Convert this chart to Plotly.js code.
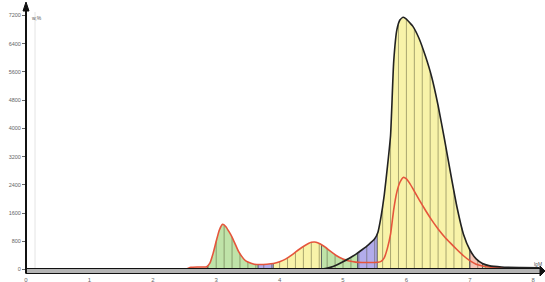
<!DOCTYPE html>
<html><head><meta charset="utf-8">
<script src="https://cdn.plot.ly/plotly-3.0.1.min.js"></script>
<style>html,body{margin:0;padding:0;background:#fff}#chart{width:545px;height:282px}</style>
</head><body><div id="chart"></div>
<script>
// ---- data ----
const xs     = [2.50,2.55,2.60,2.70,2.80,2.85,2.90,2.95,3.00,3.05,3.10,3.15,3.20,3.25,3.30,3.35,3.40,3.45,3.50,3.60,3.70,3.80,3.90,4.00,4.10,4.20,4.30,4.40,4.50,4.55,4.60,4.70,4.80,4.90,5.00,5.10,5.20,5.30,5.40,5.50,5.55,5.60,5.65,5.70,5.75,5.80,5.85,5.90,5.95,6.00,6.05,6.10,6.20,6.30,6.40,6.50,6.60,6.70,6.80,6.90,7.00,7.10,7.20,7.30,7.50,7.80,8.10];
const blackY = [0,0,0,0,0,0,0,0,0,0,0,0,0,0,0,0,0,0,0,0,0,0,0,0,0,0,0,0,0,0,0,20,60,130,220,320,430,560,700,870,1050,1500,2100,2900,3800,5900,6800,7080,7150,7100,7000,6900,6550,6050,5450,4650,3700,2700,1750,1000,560,300,170,110,70,55,45];
const redY   = [0,30,60,70,70,80,180,450,800,1120,1280,1220,1080,920,720,520,380,270,210,150,140,150,170,220,300,420,560,680,770,780,760,660,520,390,300,240,210,200,200,200,205,230,330,600,1000,1700,2200,2480,2610,2570,2450,2300,1980,1680,1400,1150,930,740,560,390,250,150,100,70,50,40,30];
const segmentEdges = [2.50,2.86,3.66,3.90,4.66,5.23,5.54,7.00,7.20,7.60,8.10];
const segmentKinds = ['pink','green','purple','yellow','green','purple','yellow','pink','green','purple'];
const hatchStep = 0.125;
const xTickVals = [0,1,2,3,4,5,6,7,8];
const xTickText = ['0','1','2','3','4','5','6','7','8'];
const yTickVals = [0,800,1600,2400,3200,4000,4800,5600,6400,7200];
const yTickText = ['0','800','1600','2400','3200','4000','4800','5600','6400','7200'];

// ---- styles ----
const kindColor = {pink:'#f6c6b6', green:'#bfe3a8', purple:'#b2aceb', yellow:'#f8f3a9'};

const env = xs.map((x,i)=>Math.max(blackY[i], redY[i]));
function interpEnv(x){
  if (x<=xs[0]) return env[0];
  for (let i=0;i<xs.length-1;i++){
    if (x>=xs[i] && x<=xs[i+1]){
      const t=(x-xs[i])/(xs[i+1]-xs[i]);
      return env[i]+t*(env[i+1]-env[i]);
    }
  }
  return env[env.length-1];
}

const traces = [];
for (let s=0;s<segmentKinds.length;s++){
  const a=segmentEdges[s], b=segmentEdges[s+1];
  const sx=[a], sy=[interpEnv(a)];
  xs.forEach((x,i)=>{ if (x>a && x<b){ sx.push(x); sy.push(env[i]); } });
  sx.push(b); sy.push(interpEnv(b));
  traces.push({x:sx,y:sy,type:'scatter',mode:'lines',fill:'tozeroy',
    fillcolor:kindColor[segmentKinds[s]],line:{width:0,color:kindColor[segmentKinds[s]]},hoverinfo:'skip',showlegend:false});
}
// hatch lines
const hx=[], hy=[];
for (let x=2.875; x<=8.1; x+=hatchStep){ hx.push(x,x,null); hy.push(0,interpEnv(x),null); }
traces.push({x:hx,y:hy,type:'scatter',mode:'lines',line:{color:'rgba(70,70,40,0.45)',width:1},hoverinfo:'skip',showlegend:false});
const bx=[], by=[];
for (let s=1;s<segmentEdges.length-1;s++){ const x=segmentEdges[s]; bx.push(x,x,null); by.push(0,interpEnv(x),null); }
traces.push({x:bx,y:by,type:'scatter',mode:'lines',line:{color:'rgba(40,40,60,0.75)',width:1},hoverinfo:'skip',showlegend:false});
traces.push({x:xs,y:redY,type:'scatter',mode:'lines',line:{color:'#e5553c',width:1.6,shape:'spline',smoothing:0.5},showlegend:false});
traces.push({x:xs,y:blackY,type:'scatter',mode:'lines',line:{color:'#222',width:1.6,shape:'spline',smoothing:0.5},showlegend:false});

// layout geometry helpers (plot area px 26..545, py 3..275)
const PL=26, PR=545, PT=3, PB=275;
const px=v=>(v-PL)/(PR-PL), py=v=>(PB-v)/(PB-PT);
const shapes = [
  {type:'line',xref:'paper',yref:'paper',x0:px(35),x1:px(35),y0:py(268),y1:py(12),line:{color:'#e4e4e4',width:1},layer:'below'},
  {type:'rect',xref:'paper',yref:'paper',x0:px(26),x1:px(541),y0:py(273.5),y1:py(268.5),fillcolor:'#b4b4b4',line:{color:'#111',width:1}},
  {type:'path',xref:'paper',yref:'paper',path:`M ${px(540)} ${py(266)} L ${px(545)} ${py(271)} L ${px(540)} ${py(276)} Z`,fillcolor:'#111',line:{color:'#111',width:1}},
  {type:'line',xref:'paper',yref:'paper',x0:px(26),x1:px(26),y0:py(273.5),y1:py(8),line:{color:'#111',width:2}},
  {type:'path',xref:'paper',yref:'paper',path:`M ${px(23)} ${py(11)} L ${px(26)} ${py(2)} L ${px(29)} ${py(11)} Z`,fillcolor:'#111',line:{color:'#111',width:1}}
];

const layout = {
  width:545,height:282,margin:{l:PL,r:0,t:PT,b:282-PB},
  paper_bgcolor:'#fff',plot_bgcolor:'#fff',showlegend:false,
  font:{family:'Liberation Sans, Arial, sans-serif',size:6,color:'#666'},
  xaxis:{range:[0,(PR-PL)/63.4],tickvals:xTickVals,ticktext:xTickText,showgrid:false,zeroline:false,showline:false,ticks:'',tickfont:{size:6,color:'#666'},fixedrange:true},
  yaxis:{range:[-(PB-269.5)*28.35,(269.5-PT)*28.35],tickvals:yTickVals,ticktext:yTickText,showgrid:false,zeroline:false,showline:false,ticks:'outside',ticklen:3,tickcolor:'#666',tickwidth:1,tickfont:{size:5.5,color:'#666'},fixedrange:true},
  shapes:shapes,
  annotations:[
    {xref:'paper',yref:'paper',x:px(30),y:py(18),xanchor:'left',yanchor:'middle',text:'w,%',showarrow:false,font:{size:5,color:'#555'}},
    {xref:'paper',yref:'paper',x:px(544),y:py(264),xanchor:'right',yanchor:'middle',text:'lgM',showarrow:false,font:{size:5,color:'#555'}}
  ]
};
Plotly.newPlot('chart',traces,layout,{staticPlot:true,displayModeBar:false});
</script></body></html>
